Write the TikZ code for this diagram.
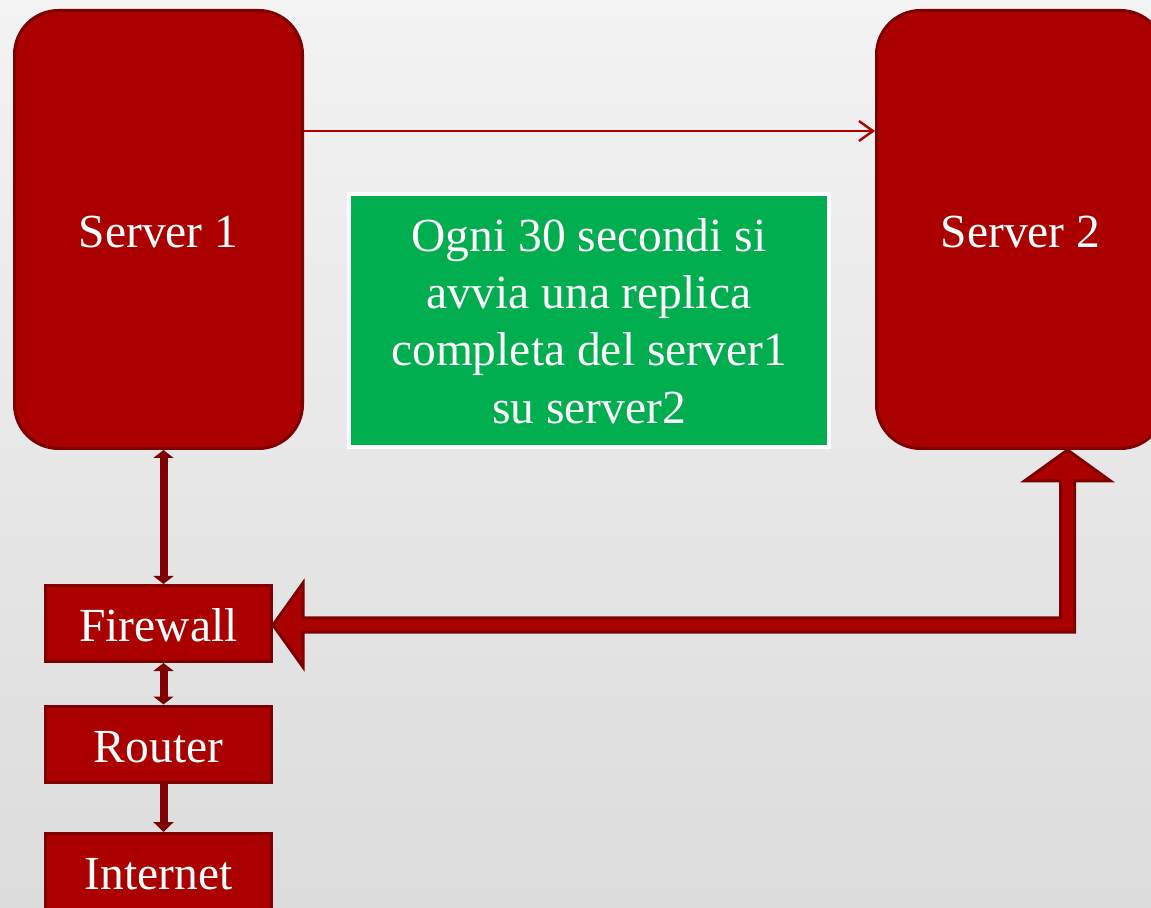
\documentclass[tikz,border=0pt]{standalone}
\usepackage{fontspec}
\setmainfont{Liberation Serif}
\usetikzlibrary{arrows.meta,calc}
\definecolor{bgtop}{HTML}{F3F3F3}
\definecolor{bgbot}{HTML}{DCDCDC}
\definecolor{redfill}{HTML}{AA0000}
\definecolor{redline}{HTML}{7F0000}
\definecolor{thinred}{HTML}{B20000}
\definecolor{greenfill}{HTML}{00AD4F}
\tikzset{
  txt/.style={font=\fontsize{23.75}{28.6}\selectfont, text=white, align=center},
  serverbox/.style={txt, draw=redline, fill=redfill, line width=1.5pt, rounded corners=22pt,
    minimum width=144pt, minimum height=219pt, inner sep=0pt, text height=18pt, text depth=0pt},
  netbox/.style={txt, draw=redline, fill=redfill, line width=1.5pt,
    minimum width=113pt, minimum height=38pt, inner sep=0pt, text height=18pt, text depth=0pt},
  notebox/.style={txt, draw=white, fill=greenfill, line width=2pt,
    minimum width=240pt, minimum height=126.5pt, inner sep=0pt},
  thinarrow/.style={draw=thinred, line width=1.2pt, -{Straight Barb[length=7pt,width=10pt,line width=1.2pt]}},
  linkarrow/.style={draw=redline, line width=4pt},
  bigarrow/.style={draw=redline, fill=redfill, line width=1.5pt, line join=miter}
}
\begin{document}
\begin{tikzpicture}[x=0.5pt,y=-0.5pt]
\useasboundingbox (0,0) rectangle (1151,908);
\clip (0,0) rectangle (1151,908);
\shade[top color=bgtop, bottom color=bgbot] (0,0) rectangle (1151,908);

\node[serverbox] (s1) at (158.5,229.5) {Server 1};
\node[serverbox] (s2) at (1020.5,229.5) {Server 2};
\node[notebox] (note) at (589,321) {Ogni 30 secondi si\\avvia una replica\\completa del server1\\su server2};
\node[netbox] (fw) at (158.5,623.5) {Firewall};
\node[netbox] (rt) at (158.5,744) {Router};
\node[netbox] (inet) at (158.5,871.5) {Internet};

% replication arrow
\draw[thinarrow] ([yshift=49.25pt]s1.east) -- ([yshift=49.25pt]s2.west);

% vertical links
\draw[linkarrow, {Triangle[length=4pt,width=10pt]}-{Triangle[length=4pt,width=10pt]}]
  ([xshift=2.5pt]s1.south) -- ([xshift=2.5pt]fw.north);
\draw[linkarrow, {Triangle[length=4pt,width=10pt]}-{Triangle[length=4pt,width=10pt]}]
  ([xshift=2.5pt]fw.south) -- ([xshift=2.5pt]rt.north);
\draw[linkarrow, -{Triangle[length=5pt,width=10pt]}]
  ([xshift=2.5pt]rt.south) -- ([xshift=2.5pt]inet.north);

% big block arrow firewall <-> server 2
\coordinate (A) at ([yshift=-0.75pt]fw.east);
\coordinate (B) at ([xshift=23.5pt]s2.south);
\path[bigarrow]
  (A) -- ($(A)+(30,-42)$) -- ($(A)+(30,-7)$) -- ($(B|-A)+(-7,-7)$)
  -- ($(B)+(-7,31)$) -- ($(B)+(-43,31)$) -- (B) -- ($(B)+(43,31)$)
  -- ($(B)+(7,31)$) -- ($(B|-A)+(7,7)$) -- ($(A)+(30,7)$)
  -- ($(A)+(30,42)$) -- cycle;
\end{tikzpicture}
\end{document}
